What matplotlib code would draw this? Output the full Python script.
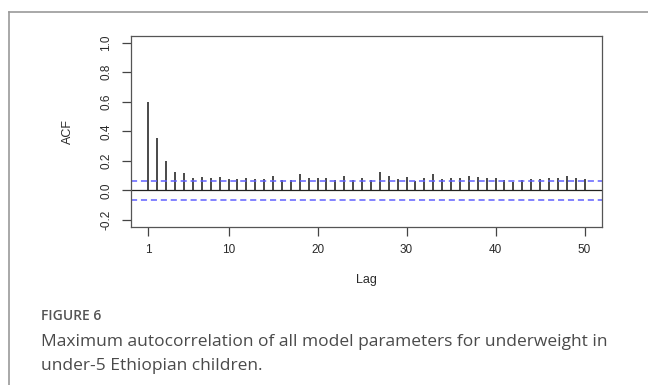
import matplotlib.pyplot as plt
from matplotlib.lines import Line2D

# ACF-vrednosti po lagu (ocitano sa slike)
lags = list(range(1, 51))
acf = [0.596, 0.357, 0.198, 0.127, 0.116, 0.084, 0.093, 0.084, 0.093, 0.075,
       0.075, 0.084, 0.080, 0.080, 0.100, 0.073, 0.073, 0.114, 0.084, 0.084,
       0.084, 0.073, 0.095, 0.073, 0.084, 0.068, 0.125, 0.100, 0.077, 0.091,
       0.061, 0.084, 0.114, 0.080, 0.084, 0.084, 0.095, 0.091, 0.084, 0.084,
       0.068, 0.057, 0.068, 0.080, 0.080, 0.084, 0.084, 0.095, 0.084, 0.080]
ci = 0.063

x_ticks = [1, 10, 20, 30, 40, 50]
y_ticks = [-0.2, 0.0, 0.2, 0.4, 0.6, 0.8, 1.0]

caption_title = "FIGURE 6"
caption_lines = ["Maximum autocorrelation of all model parameters for underweight in",
                 "under-5 Ethiopian children."]

W, H = 648, 385
fig = plt.figure(figsize=(W / 100, H / 100), dpi=100)

# okvir oko slike (levo i gore)
fig.add_artist(Line2D([9 / W, 9 / W], [0, 1 - 12 / H], transform=fig.transFigure,
                      color="#9a9a9a", lw=1.2))
fig.add_artist(Line2D([9 / W, 1], [1 - 12 / H, 1 - 12 / H], transform=fig.transFigure,
                      color="#9a9a9a", lw=1.2))

ax = fig.add_axes([131 / W, 1 - 227 / H, (602 - 131) / W, (227 - 35.7) / H])

ax.vlines(lags, 0, acf, color="#2a2a2a", lw=1.2)
ax.axhline(0, color="#222222", lw=0.9)
for c in (ci, -ci):
    ax.axhline(c, color="#6060ff", lw=1.1, linestyle=(0, (4, 2.5)))

ax.set_xlim(1 - 0.04 * 49, 50 + 0.04 * 49)
ax.set_ylim(-0.2 - 0.048, 1.0 + 0.048)

ax.set_xticks(x_ticks)
ax.set_yticks(y_ticks)
ax.set_yticklabels([f"{v:.1f}" for v in y_ticks], rotation=90, va="center")

font = "Liberation Sans"
for lab in ax.get_xticklabels() + ax.get_yticklabels():
    lab.set_fontfamily(font)
    lab.set_fontsize(8.5)
    lab.set_color("#2a2a2a")

ax.tick_params(axis="both", direction="out", length=6.5, width=0.9, color="#444444")
ax.tick_params(axis="x", pad=6)
ax.tick_params(axis="y", pad=7)

for s in ax.spines.values():
    s.set_color("#555555")
    s.set_linewidth(0.9)

ax.set_xlabel("Lag", fontfamily=font, fontsize=9, color="#2a2a2a", labelpad=13)
ax.set_ylabel("ACF", fontfamily=font, fontsize=9, color="#2a2a2a", labelpad=19)

# potpis ispod grafika
fig.text(41 / W, 1 - 320 / H, caption_title, fontfamily="Open Sans", fontweight="semibold",
         fontsize=10, color="#555555", va="baseline")
fig.text(41 / W, 1 - 346 / H, caption_lines[0], fontfamily="Open Sans",
         fontsize=12.5, color="#4a4a4a", va="baseline")
fig.text(41 / W, 1 - 370 / H, caption_lines[1], fontfamily="Open Sans",
         fontsize=12.5, color="#4a4a4a", va="baseline")

fig.savefig("out.png", dpi=100)
